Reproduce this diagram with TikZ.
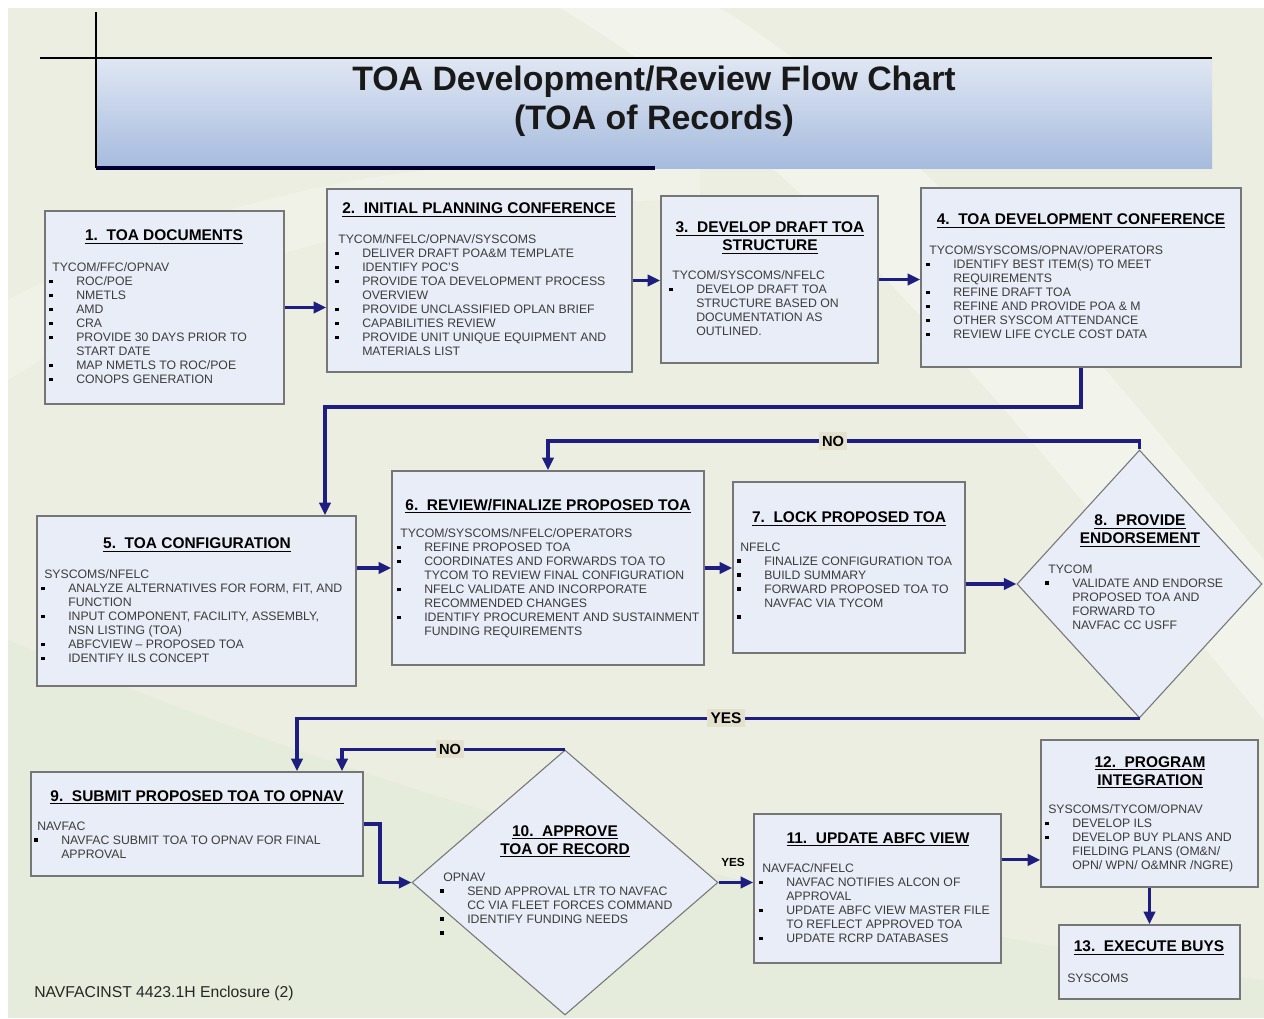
\documentclass[tikz,border=0pt]{standalone}
\usepackage{fontspec}
\setmainfont{Liberation Sans}
\usetikzlibrary{shapes.geometric,arrows.meta,calc,fit,shadows}
\definecolor{bgc}{RGB}{236,238,225}
\definecolor{boxc}{RGB}{232,237,247}
\definecolor{bordc}{RGB}{118,118,118}
\definecolor{arrc}{RGB}{30,30,128}
\definecolor{txtc}{RGB}{60,60,60}
\definecolor{lblbg}{RGB}{228,226,206}
\definecolor{bandtop}{RGB}{224,231,243}
\definecolor{bandbot}{RGB}{166,187,222}
\newcommand{\bi}{\makebox[18pt][l]{\hspace{-2.4pt}\textcolor{black}{\rule[1.8pt]{2.8pt}{2.8pt}}}}
\newcommand{\ci}{\hspace*{18pt}}
\begin{document}
\begin{tikzpicture}[x=0.75pt,y=-0.75pt,
  box/.style={draw=bordc, line width=1.1pt, fill=boxc, inner sep=0pt,
    drop shadow={shadow xshift=1pt, shadow yshift=-1pt, opacity=0.25}},
  dia/.style={diamond, draw=bordc, line width=0.8pt, fill=boxc, inner sep=0pt},
  ttl/.style={font=\fontsize{11.6}{13.5}\selectfont\bfseries, align=center, text=black, inner sep=0pt},
  body/.style={font=\fontsize{9.2}{10.5}\selectfont, align=left, anchor=north west, inner sep=0pt, text=txtc},
  arr/.style={draw=arrc, line width=2.3pt, -{Triangle[length=9.5pt,width=8.5pt]}},
  lbl/.style={font=\fontsize{11}{13}\selectfont\bfseries, fill=lblbg, inner sep=2.5pt, text=black}]
\useasboundingbox (0,0) rectangle (1264,1018);
% background
\fill[white] (0,0) rectangle (1264,1018);
\fill[bgc] (8,8) rectangle (1264,1018);
\fill[white, opacity=0.35] (560,8) .. controls (800,150) and (1000,400) .. (1264,720) -- (1264,560) .. controls (1050,300) and (900,120) .. (720,8) -- cycle;
\fill[white, opacity=0.25] (8,300) .. controls (200,200) and (400,150) .. (700,160) -- (700,200) .. controls (400,200) and (200,260) .. (8,380) -- cycle;
\fill[black!40!green, opacity=0.025] (8,640) .. controls (300,760) and (700,900) .. (1264,980) -- (1264,1018) -- (8,1018) -- cycle;

% title band
\node[inner sep=0pt, fit={(96,58)(1212,168)}, top color=bandtop, bottom color=bandbot] (band) {};
\draw[black, line width=1.4pt] (40,58) -- (1212,58);
\draw[black, line width=1pt] (96,12) -- (96,168);
\draw[black!80!blue, line width=2.4pt] (96,168) -- (655,168);
\node[font=\fontsize{25.4}{29}\selectfont\bfseries, align=center, text=black!90] (title) at (654,101.5) {TOA Development/Review Flow Chart\\(TOA of Records)};

% boxes
\node[box, fit={(45,211)(284,404)}] (b1) {};
\node[box, fit={(327,189)(632,372)}] (b2) {};
\node[box, fit={(661,196)(878,363)}] (b3) {};
\node[box, fit={(921,188)(1241,367)}] (b4) {};
\node[box, fit={(37,516)(356,686)}] (b5) {};
\node[box, fit={(392,471)(704,665)}] (b6) {};
\node[box, fit={(733,482)(965,653)}] (b7) {};
\node[dia, minimum width={245*0.75pt}, minimum height={268*0.75pt}] (d8) at (1139.5,584) {};
\node[box, fit={(31,772)(363,876)}] (b9) {};
\node[dia, minimum width={306*0.75pt}, minimum height={265*0.75pt}] (d10) at (565,882.5) {};
\node[box, fit={(754,814)(1001,963)}] (b11) {};
\node[box, fit={(1041,740)(1258,887)}] (b12) {};
\node[box, fit={(1059,925)(1240,999)}] (b13) {};

% titles
\node[ttl] (t1) at (164,237) {\underline{1.\ \ TOA DOCUMENTS}};
\node[ttl] (t2) at (479,210) {\underline{2.\ \ INITIAL PLANNING CONFERENCE}};
\node[ttl] (t3) at (770,238) {\underline{3.\ \ DEVELOP DRAFT TOA}\\\underline{STRUCTURE}};
\node[ttl] (t4) at (1081,221) {\underline{4.\ \ TOA DEVELOPMENT CONFERENCE}};
\node[ttl] (t5) at (197,545) {\underline{5.\ \ TOA CONFIGURATION}};
\node[ttl] (t6) at (548,506) {\underline{6.\ \ REVIEW/FINALIZE PROPOSED TOA}};
\node[ttl] (t7) at (849,519) {\underline{7.\ \ LOCK PROPOSED TOA}};
\node[ttl] (t8) at (1140,531) {\underline{8.\ \ PROVIDE}\\\underline{ENDORSEMENT}};
\node[ttl] (t9) at (197,797) {\underline{9.\ \ SUBMIT PROPOSED TOA TO OPNAV}};
\node[ttl] (t10) at (565,841) {\underline{10.\ \ APPROVE}\\\underline{TOA OF RECORD}};
\node[ttl] (t11) at (878,839) {\underline{11.\ \ UPDATE ABFC VIEW}};
\node[ttl] (t12) at (1150,772) {\underline{12.\ \ PROGRAM}\\\underline{INTEGRATION}};
\node[ttl] (t13) at (1149,948) {\underline{13.\ \ EXECUTE BUYS}};

% bodies
\node[body] (x1) at (52,262.5) {TYCOM/FFC/OPNAV\\
\bi ROC/POE\\ \bi NMETLS\\ \bi AMD\\ \bi CRA\\ \bi PROVIDE 30 DAYS PRIOR TO\\ \ci START DATE\\ \bi MAP NMETLS TO ROC/POE\\ \bi CONOPS GENERATION};
\node[body] (x2) at (338,234.5) {TYCOM/NFELC/OPNAV/SYSCOMS\\ \bi DELIVER DRAFT POA\&M TEMPLATE\\ \bi IDENTIFY POC'S\\ \bi PROVIDE TOA DEVELOPMENT PROCESS\\ \ci OVERVIEW\\ \bi PROVIDE UNCLASSIFIED OPLAN BRIEF\\ \bi CAPABILITIES REVIEW\\ \bi PROVIDE UNIT UNIQUE EQUIPMENT AND\\ \ci MATERIALS LIST};
\node[body] (x3) at (672,270.5) {TYCOM/SYSCOMS/NFELC\\ \bi DEVELOP DRAFT TOA\\ \ci STRUCTURE BASED ON\\ \ci DOCUMENTATION AS\\ \ci OUTLINED.};
\node[body] (x4) at (929,245.5) {TYCOM/SYSCOMS/OPNAV/OPERATORS\\ \bi IDENTIFY BEST ITEM(S) TO MEET\\ \ci REQUIREMENTS\\ \bi REFINE DRAFT TOA\\ \bi REFINE AND PROVIDE POA \& M\\ \bi OTHER SYSCOM ATTENDANCE\\ \bi REVIEW LIFE CYCLE COST DATA};
\node[body] (x5) at (44,569.5) {SYSCOMS/NFELC\\ \bi ANALYZE ALTERNATIVES FOR FORM, FIT, AND\\ \ci FUNCTION\\ \bi INPUT COMPONENT, FACILITY, ASSEMBLY,\\ \ci NSN LISTING (TOA)\\ \bi ABFCVIEW -- PROPOSED TOA\\ \bi IDENTIFY ILS CONCEPT};
\node[body] (x6) at (400,528.5) {TYCOM/SYSCOMS/NFELC/OPERATORS\\ \bi REFINE PROPOSED TOA\\ \bi COORDINATES AND FORWARDS TOA TO\\ \ci TYCOM TO REVIEW FINAL CONFIGURATION\\ \bi NFELC VALIDATE AND INCORPORATE\\ \ci RECOMMENDED CHANGES\\ \bi IDENTIFY PROCUREMENT AND SUSTAINMENT\\ \ci FUNDING REQUIREMENTS};
\node[body] (x7) at (740,542.5) {NFELC\\ \bi FINALIZE CONFIGURATION TOA\\ \bi BUILD SUMMARY\\ \bi FORWARD PROPOSED TOA TO\\ \ci NAVFAC VIA TYCOM\\ \bi\mbox{}};
\node[body] (x8) at (1048,564.5) {TYCOM\\ \bi VALIDATE AND ENDORSE\\ \ci PROPOSED TOA AND\\ \ci FORWARD TO\\ \ci NAVFAC CC USFF};
\node[body] (x9) at (37,821.5) {NAVFAC\\ \bi NAVFAC SUBMIT TOA TO OPNAV FOR FINAL\\ \ci APPROVAL};
\node[body] (x10) at (443,872.5) {OPNAV\\ \bi SEND APPROVAL LTR TO NAVFAC\\ \ci CC VIA FLEET FORCES COMMAND\\ \bi IDENTIFY FUNDING NEEDS\\ \bi\mbox{}};
\node[body] (x11) at (762,863.5) {NAVFAC/NFELC\\ \bi NAVFAC NOTIFIES ALCON OF\\ \ci APPROVAL\\ \bi UPDATE ABFC VIEW MASTER FILE\\ \ci TO REFLECT APPROVED TOA\\ \bi UPDATE RCRP DATABASES};
\node[body] (x12) at (1048,804.5) {SYSCOMS/TYCOM/OPNAV\\ \bi DEVELOP ILS\\ \bi DEVELOP BUY PLANS AND\\ \ci FIELDING PLANS (OM\&N/\\ \ci OPN/ WPN/ O\&MNR /NGRE)};
\node[body] (x13) at (1067,973.5) {SYSCOMS};

\node[anchor=west, inner sep=0pt, font=\fontsize{11.8}{14}\selectfont, text=black!85] (foot) at (34,993) {NAVFACINST 4423.1H Enclosure (2)};

% connectors
\coordinate (c45) at (325,407);
\coordinate (no1) at (548,441);
\coordinate (yes1) at (297,718);
\coordinate (no2) at (342,750);
\coordinate (c910) at (380,824);
\coordinate (a1112) at ($(b11.north east)!0.31!(b11.south east)$);
\draw[arr] (b1.east) -- (b1.east -| b2.west);
\draw[arr] (b2.east) -- (b2.east -| b3.west);
\draw[arr] (b3.east) -- (b3.east -| b4.west);
\draw[arr] (b4.south) |- (c45) -- (c45 |- b5.north);
\draw[arr] (b6.west -| b5.east) -- (b6.west);
\draw[arr] (b6.east) -- (b6.east -| b7.west);
\draw[arr] (d8.west -| b7.east) -- (d8.west);
\draw[arr] (d8.north) |- (no1) -- (b6.north);
\draw[arr] (d8.south) -- (d8.south -| yes1) -- (yes1 |- b9.north);
\draw[arr] (d10.north) -- (d10.north -| no2) -- (no2 |- b9.north);
\draw[arr] (b9.east) -- (c910) |- (d10.west);
\draw[arr] (d10.east) -- (d10.east -| b11.west);
\draw[arr] (a1112) -- (a1112 -| b12.west);
\draw[arr] (b12.south) -- (b13.north);

% labels
\node[lbl] (l1) at (833,441) {NO};
\node[lbl, font=\fontsize{11.6}{13}\selectfont\bfseries] (l2) at (726,718) {YES};
\node[lbl] (l3) at (450,749) {NO};
\node[font=\fontsize{8.8}{10}\selectfont\bfseries, inner sep=1pt, text=black] (l4) at (733,862) {YES};
\end{tikzpicture}
\end{document}
